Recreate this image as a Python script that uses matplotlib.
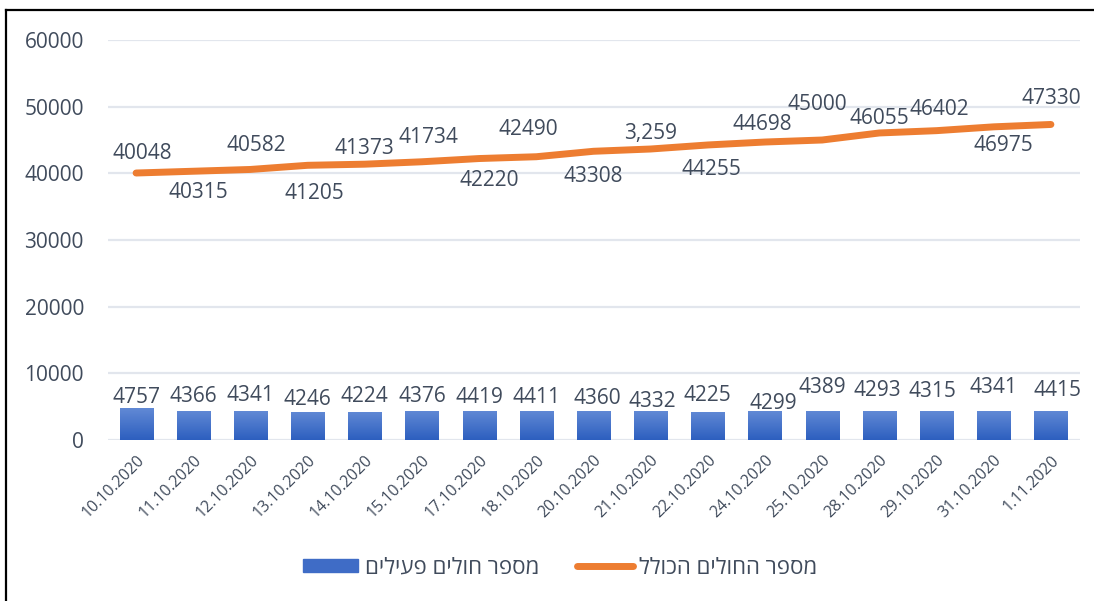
import matplotlib.pyplot as plt
import numpy as np
from matplotlib.lines import Line2D
from matplotlib.colors import LinearSegmentedColormap

plt.rcParams['font.family'] = ['Open Sans', 'DejaVu Sans']

# Data
dates = ["10.10.2020", "11.10.2020", "12.10.2020", "13.10.2020", "14.10.2020",
         "15.10.2020", "17.10.2020", "18.10.2020", "20.10.2020", "21.10.2020",
         "22.10.2020", "24.10.2020", "25.10.2020", "28.10.2020", "29.10.2020",
         "31.10.2020", "1.11.2020"]
active = [4757, 4366, 4341, 4246, 4224, 4376, 4419, 4411, 4360, 4332,
          4225, 4299, 4389, 4293, 4315, 4341, 4415]
total = [40048, 40315, 40582, 41205, 41373, 41734, 42220, 42490, 43308, 43650,
         44255, 44698, 45000, 46055, 46402, 46975, 47330]
# the source labels the 21.10 point "3,259"
total_labels = ["40048", "40315", "40582", "41205", "41373", "41734", "42220",
                "42490", "43308", "3,259", "44255", "44698", "45000", "46055",
                "46402", "46975", "47330"]
yticks = [0, 10000, 20000, 30000, 40000, 50000, 60000]

bar_name = "מספר חולים פעילים"
line_name = "מספר החולים הכולל"

# label placement: pixel offsets of the label centre from the data point
bar_lbl_off = [(0, 11), (0, 14), (0, 16), (0, 12), (0, 15), (0, 14), (0, 13), (0, 13),
               (4, 12), (2, 10), (0, 16), (8, 8), (0, 23), (-2, 21), (-4, 20), (0, 24), (7, 20)]
line_lbl_off = [(6, 20), (5, -21), (6, 24), (7, -28), (0, 16), (6, 24), (10, -22), (-8, 27),
                (0, -25), (0, 16), (4, -25), (-3, 18), (-5, 35), (0, 14), (3, 21), (10, -19), (0, 26)]

TEXT = '#404b5c'
ORANGE = '#ed7d31'


def rtl(s):
    # matplotlib has no bidi support, so Hebrew is laid out in visual order
    return s[::-1]


fig = plt.figure(figsize=(10.94, 6.01), dpi=100)
ax = fig.add_axes([107.5 / 1094, 1 - 440 / 601, 972 / 1094, 400 / 601])

x = np.arange(len(dates))
bars = ax.bar(x, active, width=0.58, color='#4472c4', zorder=2)

# vertical gradient inside each bar
cmap = LinearSegmentedColormap.from_list('g', ['#2d5fbf', '#6189d5'])
grad = np.linspace(0, 1, 64).reshape(-1, 1)
for b in bars:
    x0, y0 = b.get_x(), b.get_y()
    im = ax.imshow(grad, cmap=cmap, origin='lower', aspect='auto', zorder=3,
                   extent=(x0, x0 + b.get_width(), y0, y0 + b.get_height()))
    im.set_clip_path(b)

line, = ax.plot(x, total, color=ORANGE, lw=5, solid_capstyle='round', zorder=4)

for i, v in enumerate(active):
    dx, dy = bar_lbl_off[i]
    ax.annotate(str(v), (x[i], v), xytext=(dx * 0.72, dy * 0.72), textcoords='offset points',
                ha='center', va='center', fontsize=15, color=TEXT, zorder=5)

for i, v in enumerate(total):
    dx, dy = line_lbl_off[i]
    ax.annotate(total_labels[i], (x[i], v), xytext=(dx * 0.72, dy * 0.72),
                textcoords='offset points', ha='center', va='center',
                fontsize=15, color=TEXT, zorder=5)

ax.set_xlim(-0.5, len(dates) - 0.5)
ax.set_ylim(0, 60000)
ax.set_yticks(yticks)
ax.set_yticklabels([str(t) for t in yticks], fontsize=15, color=TEXT)
ax.set_xticks(x)
ax.set_xticklabels(dates, rotation=45, ha='right', va='top', rotation_mode='anchor',
                   fontsize=11.5, color=TEXT)
ax.tick_params(axis='both', length=0)
ax.tick_params(axis='y', pad=17)
ax.tick_params(axis='x', pad=9)
ax.grid(axis='y', color='#e2e6ed', lw=1.6, zorder=0)
ax.set_axisbelow(True)
for s in ax.spines.values():
    s.set_visible(False)

bar_handle = plt.Rectangle((0, 0), 1, 1, color='#3f6cc6')
ax.legend([bar_handle, line], [rtl(bar_name), rtl(line_name)],
          loc='center', bbox_to_anchor=(560 / 1094, 1 - 568 / 601), bbox_transform=fig.transFigure,
          ncol=2, frameon=False, fontsize=16, labelcolor=TEXT, handlelength=2.5,
          handleheight=0.55, columnspacing=1.7, handletextpad=0.3)

# frame lines of the original screenshot
fig.add_artist(Line2D([6 / 1094, 1], [1 - 10 / 601, 1 - 10 / 601], color='black', lw=1.6))
fig.add_artist(Line2D([6 / 1094, 6 / 1094], [0, 1 - 10 / 601], color='black', lw=1.6))

plt.savefig('out.png', dpi=100)
